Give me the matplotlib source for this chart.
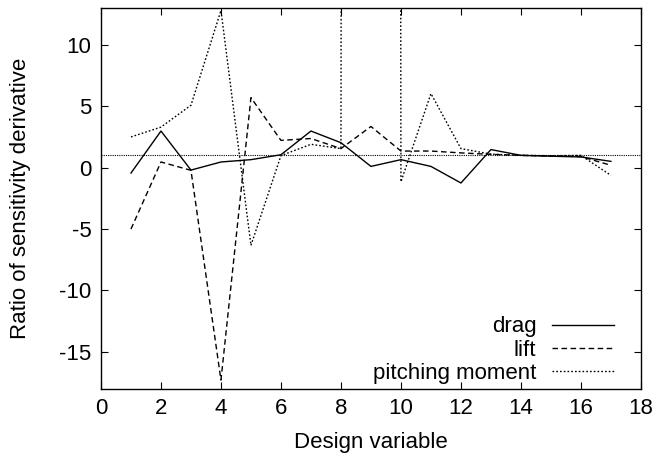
import matplotlib
matplotlib.use("Agg")
import matplotlib.pyplot as plt
import numpy as np

plt.rcParams['font.family'] = ['Liberation Sans', 'DejaVu Sans']
plt.rcParams['font.size'] = 16
plt.rcParams['axes.unicode_minus'] = False

# design variable index
design_var = np.arange(1, 18)
# ratio of sensitivity derivative
drag = [-0.44, 2.98, -0.2, 0.46, 0.65, 1.05, 2.98, 2.03, 0.1, 0.65, 0.1, -1.25, 1.47, 1.0, 0.93, 0.87, 0.51]
lift = [-5.0, 0.46, -0.22, -17.3, 5.7, 2.22, 2.37, 1.55, 3.35, 1.35, 1.35, 1.2, 1.08, 1.0, 0.95, 0.9, 0.19]
pitching = [2.5, 3.3, 5.08, 12.8, -6.33, 0.98, 1.9, 1.55, 2000.0, -1.15, 6.03, 1.55, 1.1, 1.0, 0.97, 1.0, -0.63]
ref_level = 1.0

fig = plt.figure(figsize=(6.54, 4.59), dpi=100)
ax = fig.add_axes([0.1544, 0.1532, 0.8256, 0.8294])

ax.plot(design_var, drag, color="black", lw=1.0, label="drag")
ax.plot(design_var, lift, color="black", lw=1.0, dashes=(4, 2.5), label="lift")
ax.plot(design_var, pitching, color="black", lw=1.0, dashes=(1.2, 1.5), label="pitching moment")
ax.axhline(ref_level, color="black", lw=0.8, dashes=(1, 1))

ax.set_xlim(0, 18)
ax.set_ylim(-18, 13)
ax.set_xticks(np.arange(0, 19, 2))
ax.set_yticks([-15, -10, -5, 0, 5, 10])
ax.tick_params(direction="in", top=True, right=True, length=5, width=0.8, pad=7)
for s in ax.spines.values():
    s.set_linewidth(1.0)

ax.set_xlabel("Design variable", labelpad=9)
ax.set_ylabel("Ratio of sensitivity derivative", labelpad=20)

leg = ax.legend(loc="lower right", frameon=False, markerfirst=False,
                handlelength=2.8, handletextpad=0.7, labelspacing=0.1,
                borderaxespad=0.2, bbox_to_anchor=(0.975, -0.022))
for t in leg.get_texts():
    t.set_ha("right")
leg._legend_box.align = "right"

fig.savefig("out.png", dpi=100)
